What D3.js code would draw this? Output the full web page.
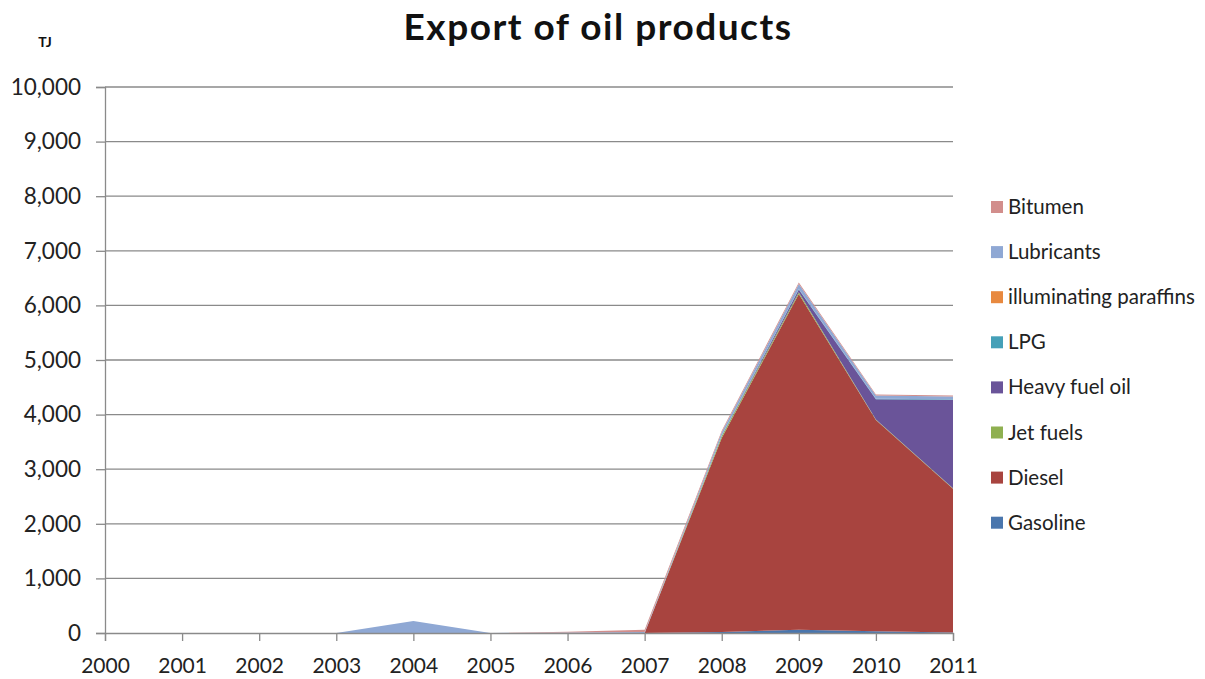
<!DOCTYPE html>
<html>
<head>
<meta charset="utf-8">
<script src="https://cdn.jsdelivr.net/npm/d3@7/dist/d3.min.js"></script>
<style>
  html, body { margin: 0; padding: 0; background: #ffffff; }
  svg { display: block; }
  text { font-family: Lato, "Open Sans", "DejaVu Sans", sans-serif; }
</style>
</head>
<body>
<svg id="chart" width="1205" height="679"></svg>
<script>
// Export of oil products, TJ per year (stacked areas)
const years = [2000, 2001, 2002, 2003, 2004, 2005, 2006, 2007, 2008, 2009, 2010, 2011];

const gasoline     = [0, 0, 0, 0, 0,   0, 0,  0,  20,   60,   30,   10];
const diesel       = [0, 0, 0, 0, 0,   0, 0,  0, 3550, 6150, 3870, 2630];
const jetFuels     = [0, 0, 0, 0, 0,   0, 0,  0,  40,   30,   10,   10];
const heavyFuelOil = [0, 0, 0, 0, 0,   0, 0,  0,   0,   50,  370, 1620];
const lpg          = [0, 0, 0, 0, 0,   0, 0,  0,   5,   10,   10,   10];
const paraffins    = [0, 0, 0, 0, 0,   0, 0,  0,   0,    0,    0,    0];
const lubricants   = [0, 0, 0, 0, 220, 0, 10, 20,  60,   90,   60,   50];
const bitumen      = [0, 0, 0, 0, 0,   0, 15, 40,  30,   30,   20,   20];

const seriesNames = ["Gasoline", "Diesel", "Jet fuels", "Heavy fuel oil", "LPG",
                     "illuminating paraffins", "Lubricants", "Bitumen"];
const seriesValues = [gasoline, diesel, jetFuels, heavyFuelOil, lpg, paraffins, lubricants, bitumen];
const seriesColors = ["#4a76ad", "#a8443f", "#8fb050", "#6a5499", "#45a0b8",
                      "#e8893f", "#8fa8d4", "#d28e8c"];

const yTicks = [0, 1000, 2000, 3000, 4000, 5000, 6000, 7000, 8000, 9000, 10000];

const svg = d3.select("#chart");
const plotLeft = 105, plotRight = 953, plotTop = 87, plotBottom = 633;

const x = d3.scalePoint().domain(years).range([plotLeft, plotRight]);
const y = d3.scaleLinear().domain([0, 10000]).range([plotBottom, plotTop]);

// rows for the stack
const rows = years.map((yr, i) => {
  const r = { year: yr };
  seriesNames.forEach((n, k) => { r[n] = seriesValues[k][i]; });
  return r;
});
const stacked = d3.stack().keys(seriesNames)(rows);

// gridlines
svg.append("g")
  .selectAll("line")
  .data(yTicks.filter(t => t > 0))
  .join("line")
  .attr("x1", plotLeft).attr("x2", plotRight)
  .attr("y1", d => y(d)).attr("y2", d => y(d))
  .attr("stroke", "#8a8a8a").attr("stroke-width", 1.3);

// stacked areas
const area = d3.area()
  .x(d => x(d.data.year))
  .y0(d => y(d[0]))
  .y1(d => y(d[1]));

svg.append("g")
  .selectAll("path")
  .data(stacked)
  .join("path")
  .attr("d", area)
  .attr("fill", (d, i) => seriesColors[i]);

// y axis
const yAxis = svg.append("g")
  .attr("transform", `translate(${plotLeft},0)`)
  .call(d3.axisLeft(y).tickValues(yTicks).tickFormat(d3.format(",")).tickSize(9).tickPadding(15));
yAxis.select(".domain").attr("stroke", "#8a8a8a").attr("stroke-width", 1.3);
yAxis.selectAll(".tick line").attr("stroke", "#8a8a8a").attr("stroke-width", 1.3);
yAxis.selectAll(".tick text").attr("font-size", 22.5).attr("fill", "#222")
  .attr("font-family", "Lato, 'Open Sans', sans-serif");

// x axis
const xAxis = svg.append("g")
  .attr("transform", `translate(0,${plotBottom})`)
  .call(d3.axisBottom(x).tickSize(8).tickPadding(17));
xAxis.select(".domain").attr("stroke", "#8a8a8a").attr("stroke-width", 1.3);
xAxis.selectAll(".tick line").attr("stroke", "#8a8a8a").attr("stroke-width", 1.3);
xAxis.selectAll(".tick text").attr("font-size", 21).attr("fill", "#222")
  .attr("font-family", "Lato, 'Open Sans', sans-serif");

// title and unit
svg.append("text")
  .attr("x", 598).attr("y", 40)
  .attr("text-anchor", "middle")
  .attr("font-size", 37).attr("font-weight", "bold").attr("fill", "#111")
  .attr("letter-spacing", 1.5)
  .text("Export of oil products");

svg.append("text")
  .attr("x", 45).attr("y", 47)
  .attr("text-anchor", "middle")
  .attr("font-size", 14).attr("font-weight", "bold").attr("fill", "#111")
  .text("TJ");

// legend (top to bottom is the reverse of the stacking order)
const legendItems = seriesNames.map((n, i) => ({ name: n, color: seriesColors[i] })).reverse();
const legend = svg.append("g").attr("transform", "translate(991,207)");
const item = legend.selectAll("g")
  .data(legendItems)
  .join("g")
  .attr("transform", (d, i) => `translate(0,${i * 45.1})`);
item.append("rect")
  .attr("x", 0).attr("y", -6).attr("width", 12).attr("height", 12)
  .attr("fill", d => d.color);
item.append("text")
  .attr("x", 17).attr("y", 7)
  .attr("font-size", 20.5).attr("fill", "#222")
  .text(d => d.name);
</script>
</body>
</html>
